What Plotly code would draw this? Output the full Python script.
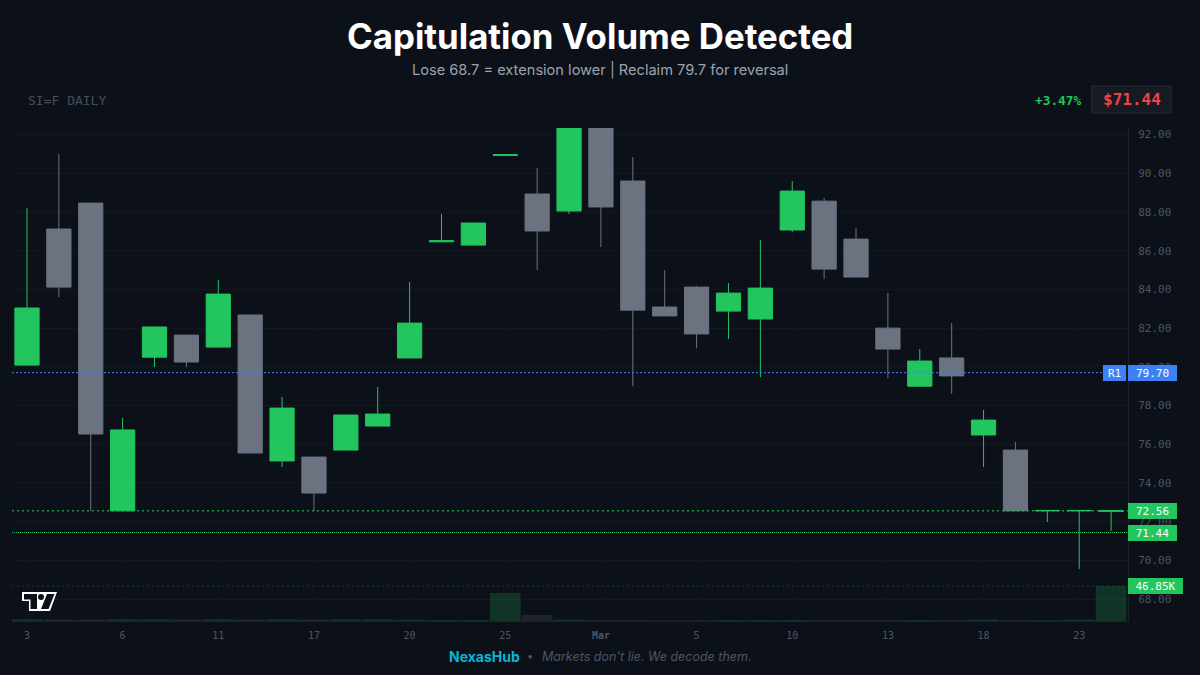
#!/usr/bin/env python3
# -*- coding: utf-8 -*-
"""
capitulation candle chart, SI=F daily
"""
import plotly.graph_objects as go

# values
dates = ["02-03","02-04","02-05","02-06","02-09","02-10","02-11","02-12","02-13","02-17",
         "02-18","02-19","02-20","02-23","02-24","02-25","02-26","02-27","03-02","03-03",
         "03-04","03-05","03-06","03-09","03-10","03-11","03-12","03-13","03-16","03-17",
         "03-18","03-19","03-20","03-23","03-24"]
opens = [80.09,87.12,88.46,72.56,80.50,81.64,81.02,82.68,75.14,75.34,
         75.70,76.94,80.46,86.46,86.29,90.92,88.93,88.05,93.50,89.60,
         83.09,84.12,82.88,82.47,87.07,88.56,86.60,82.00,79.00,80.46,
         76.48,75.70,72.56,72.56,72.54]
highs = [88.20,91.00,88.46,77.36,82.06,81.64,84.48,82.68,78.44,75.34,
         77.51,78.96,84.38,87.90,87.43,90.98,90.27,93.50,93.50,90.84,
         85.00,84.18,84.33,86.55,89.60,88.72,87.17,83.81,80.92,82.26,
         77.77,76.12,72.58,72.58,72.58]
lows = [80.09,83.60,72.56,72.56,80.00,79.99,81.02,75.55,74.83,72.56,
        75.70,76.94,80.46,86.46,86.29,90.92,85.00,87.90,86.19,79.00,
        82.63,80.97,81.44,79.47,86.96,84.54,84.64,79.42,79.00,78.60,
        74.83,72.56,71.98,69.56,71.52]
closes = [83.04,84.12,76.53,76.74,82.06,80.25,83.76,75.55,77.87,73.48,
          77.51,77.56,82.26,86.52,87.43,90.96,87.02,93.00,88.26,82.93,
          82.63,81.70,83.81,84.07,89.08,85.05,84.64,80.92,80.30,79.53,
          77.25,72.56,72.58,72.58,72.56]
volumes = [2.4,2.0,2.0,2.4,2.4,2.0,2.4,2.0,2.4,2.0,
           2.4,2.4,1.6,1.4,1.4,37.5,8.0,1.8,1.4,1.4,
           0.8,0.8,1.4,1.4,1.4,1.4,1.0,1.0,1.4,1.0,
           2.0,1.2,1.2,2.0,46.85]
tick_dates = ["02-03","02-06","02-11","02-17","02-20","02-25","03-02","03-05","03-10","03-13","03-18","03-23"]
tick_labels = ["3","6","11","17","20","25","<b>Mar</b>","5","10","13","18","23"]
price_ticks = [68,70,72,74,76,78,80,82,84,86,88,90,92]

resistance = 79.70
support = 72.56
last_price = 71.44
last_volume = 46.85

GREEN = "#22c55e"
GRAY = "#6b7280"
BLUE = "#3b82f6"
BG = "#0c1119"
GRID = "#13181f"
GRID_X = "#10151c"
AXIS = "#1c212a"
MONO = "DejaVu Sans Mono"
W, H = 1200, 675
vol_top = 660


def px(x):
    return x / W


def py(y):
    return 1 - y / H


def text(x, y, s, size, color, family="Inter", anchor="center"):
    return dict(x=px(x), y=py(y), xref="paper", yref="paper", text=s, showarrow=False,
                xanchor=anchor, yanchor="middle", font=dict(size=size, color=color, family=family))


def tag(y, yref, s, color, x=1128, w=49):
    return dict(x=px(x), y=y, xref="paper", yref=yref, text=s, showarrow=False, xanchor="left",
                yanchor="middle", width=w, height=16, bgcolor=color, borderpad=0, borderwidth=0,
                font=dict(size=11, color="#ffffff", family=MONO))


def poly(points):
    return "M" + " L".join(f"{px(a):.5f},{py(b):.5f}" for a, b in points) + " Z"


def level(y, yref, color, dash, width, x1=1128):
    return dict(type="line", xref="paper", yref=yref, x0=px(12), x1=px(x1), y0=y, y1=y,
                line=dict(color=color, width=width, dash=dash))


vol_colors = ["rgba(34,197,94,0.2)" if c >= o else "rgba(107,114,128,0.2)" for o, c in zip(opens, closes)]

fig = go.Figure()
fig.add_trace(go.Bar(x=dates, y=volumes, yaxis="y2", marker=dict(color=vol_colors, line_width=0), hoverinfo="skip"))
fig.add_trace(go.Candlestick(x=dates, open=opens, high=highs, low=lows, close=closes, whiskerwidth=0,
                             increasing=dict(line=dict(color=GREEN, width=1), fillcolor=GREEN),
                             decreasing=dict(line=dict(color=GRAY, width=1), fillcolor=GRAY)))

logo_white = dict(type="path", xref="paper", yref="paper", fillcolor="#ffffff", line_width=0,
                  path=poly([(22, 592), (57, 592), (50, 611), (29, 611), (29, 601), (22, 601)]))
logo_t = dict(type="path", xref="paper", yref="paper", fillcolor=BG, line_width=0,
              path=poly([(24, 594), (37, 594), (37, 609), (30.5, 609), (30.5, 599.5), (24, 599.5)]))
logo_v = dict(type="path", xref="paper", yref="paper", fillcolor=BG, line_width=0,
              path=poly([(47, 594), (54.5, 594), (48.5, 609), (41, 609)]))
logo_dot = dict(type="circle", xref="paper", yref="paper", fillcolor=BG, line_width=0,
                x0=px(38), x1=px(44), y0=py(600), y1=py(594))
price_box = dict(type="rect", xref="paper", yref="paper", x0=px(1092), x1=px(1171), y0=py(113), y1=py(86),
                 fillcolor="#161b23", line=dict(color="#262b34", width=1))

fig.update_layout(
    width=W, height=H, margin=dict(l=0, r=0, t=0, b=0), paper_bgcolor=BG, plot_bgcolor=BG,
    showlegend=False, bargap=0.04, boxgap=0.24, boxgroupgap=0, hovermode=False,
    xaxis=dict(type="category", domain=[px(12), px(1128)], range=[-0.47, 34.53], rangeslider_visible=False,
               tickmode="array", tickvals=tick_dates, ticktext=tick_labels, showgrid=True, gridcolor=GRID_X,
               showline=True, linecolor=AXIS, ticks="", ticklabelstandoff=5,
               tickfont=dict(size=10, color="#4b5563", family=MONO)),
    yaxis=dict(domain=[py(621), py(128)], range=[66.87, 92.34], side="right", tickmode="array",
               tickvals=price_ticks, tickformat=".2f", showgrid=True, gridcolor=GRID, zeroline=False,
               showline=True, linecolor=AXIS, ticks="", ticklabelstandoff=7,
               tickfont=dict(size=11, color="#4b5563", family=MONO)),
    yaxis2=dict(domain=[py(621), py(128)], range=[0, vol_top], overlaying="y", visible=False),
    shapes=[level(resistance, "y", BLUE, "2px,2px", 1, 1103),
            level(support, "y", "rgba(34,197,94,0.75)", "2px,3px", 1.5),
            level(last_price, "y", GREEN, "1px,1px", 1),
            level(last_volume, "y2", "rgba(34,197,94,0.25)", "2px,3px", 1),
            logo_white, logo_t, logo_v, logo_dot, price_box],
    annotations=[
        text(600, 36, "<b>Capitulation Volume Detected</b>", 34.8, "#ffffff"),
        text(600, 70, "Lose 68.7 = extension lower | Reclaim 79.7 for reversal", 14.6, "#9ca3af"),
        text(26, 100, "SI=F DAILY", 13, "#464d59", MONO, "left"),
        text(1084, 100, "<b>+3.47%</b>", 12.8, GREEN, MONO, "right"),
        text(1131.5, 99.5, "<b>$71.44</b>", 16, "#ef4444", MONO),
        text(447, 656, "<b>NexasHub</b>", 14, "#06b6d4", "Inter", "left"),
        text(530, 656, "•", 11, "#4b5563"),
        text(540, 656, "<i>Markets don't lie. We decode them.</i>", 12.5, "#4b5563", "Inter", "left"),
        tag(resistance, "y", "R1", BLUE, 1103, 23),
        tag(resistance, "y", f"{resistance:.2f}", BLUE),
        tag(support, "y", f"{support:.2f}", GREEN),
        tag(last_price, "y", f"{last_price:.2f}", GREEN),
        tag(last_volume, "y2", f"{last_volume:.2f}K", GREEN, w=55),
    ],
)

# page body has a default margin, drop it so the figure fills the window
fig.write_html("out.html", config={"displayModeBar": False},
               post_script="document.body.style.margin='0';document.body.style.background='" + BG + "';")
